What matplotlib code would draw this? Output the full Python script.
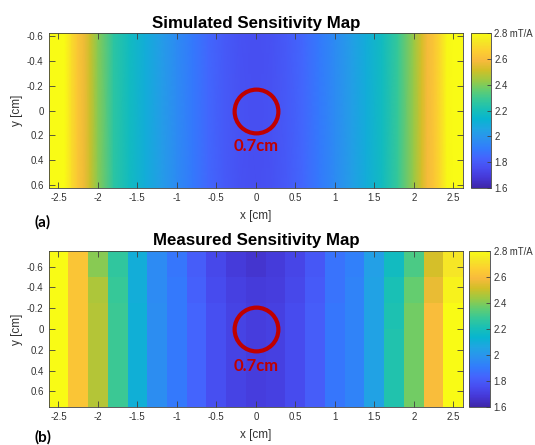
import numpy as np
import matplotlib
matplotlib.use('Agg')
import matplotlib.pyplot as plt
from matplotlib.colors import LinearSegmentedColormap

plt.rcParams['font.family'] = ['Liberation Sans', 'DejaVu Sans']

# parula (MATLAB default colormap), every 4th entry of the 64-entry table
parula_rgb = [
    (0.2422, 0.1504, 0.6603), (0.2706, 0.2147, 0.8364), (0.2813, 0.3006, 0.9414),
    (0.2699, 0.3892, 0.9906), (0.1963, 0.4847, 0.9892), (0.1687, 0.5703, 0.9359),
    (0.1248, 0.6459, 0.8883), (0.0297, 0.7082, 0.8163), (0.0964, 0.7500, 0.7120),
    (0.2161, 0.7843, 0.5923), (0.3909, 0.8029, 0.4354), (0.6174, 0.7876, 0.2612),
    (0.8203, 0.7498, 0.1535), (0.9728, 0.7298, 0.2394), (0.9892, 0.8136, 0.1885),
    (0.9597, 0.9135, 0.1423), (0.9769, 0.9839, 0.0805)]
parula_pos = [0, 4, 8, 12, 16, 20, 24, 28, 32, 36, 40, 44, 48, 52, 56, 60, 63]
parula = LinearSegmentedColormap.from_list(
    'parula', [(p / 63, c) for p, c in zip(parula_pos, parula_rgb)])

# simulated sensitivity (mT/A) along x, same profile at top and bottom edge
sim_x = [-2.625, -2.5, -2.42, -2.33, -2.25, -2.17, -2.1, -2.0, -1.8, -1.6, -1.4, -1.2,
         -1.0, -0.8, -0.6, -0.4, -0.2, 0.0, 0.2, 0.4, 0.6, 0.8, 1.0, 1.2, 1.4, 1.6,
         1.8, 2.0, 2.1, 2.17, 2.25, 2.33, 2.42, 2.5, 2.625]
sim_v = [2.92, 2.87, 2.80, 2.70, 2.63, 2.57, 2.50, 2.41, 2.26, 2.18, 2.10, 2.03,
         1.96, 1.90, 1.84, 1.80, 1.77, 1.76, 1.77, 1.80, 1.84, 1.90, 1.96, 2.03, 2.10,
         2.18, 2.28, 2.43, 2.52, 2.58, 2.63, 2.69, 2.79, 2.87, 2.92]
sim_y = [-0.625, 0.625]

# measured sensitivity (mT/A), 6 rows x 21 columns of 0.25 cm pixels
meas_x = [-2.5, -2.25, -2.0, -1.75, -1.5, -1.25, -1.0, -0.75, -0.5, -0.25, 0.0,
          0.25, 0.5, 0.75, 1.0, 1.25, 1.5, 1.75, 2.0, 2.25, 2.5]
meas_y = [-0.625, -0.375, -0.125, 0.125, 0.375, 0.625]
meas_v = [
    [2.84, 2.63, 2.41, 2.27, 2.10, 1.96, 1.89, 1.81, 1.74, 1.69, 1.67, 1.69, 1.73, 1.79, 1.88, 1.92, 2.04, 2.18, 2.32, 2.52, 2.73],
    [2.84, 2.63, 2.46, 2.28, 2.10, 1.96, 1.90, 1.82, 1.75, 1.71, 1.69, 1.70, 1.74, 1.80, 1.88, 1.93, 2.05, 2.21, 2.36, 2.56, 2.77],
    [2.84, 2.63, 2.47, 2.29, 2.11, 1.97, 1.90, 1.83, 1.76, 1.72, 1.70, 1.71, 1.75, 1.81, 1.89, 1.93, 2.05, 2.22, 2.38, 2.60, 2.82],
    [2.84, 2.63, 2.47, 2.29, 2.11, 1.97, 1.90, 1.83, 1.76, 1.72, 1.70, 1.71, 1.75, 1.81, 1.89, 1.93, 2.05, 2.23, 2.38, 2.60, 2.82],
    [2.84, 2.63, 2.47, 2.29, 2.11, 1.97, 1.90, 1.83, 1.76, 1.72, 1.70, 1.71, 1.75, 1.81, 1.89, 1.93, 2.05, 2.23, 2.38, 2.60, 2.82],
    [2.84, 2.63, 2.47, 2.29, 2.11, 1.97, 1.90, 1.83, 1.76, 1.72, 1.70, 1.71, 1.75, 1.81, 1.89, 1.93, 2.05, 2.23, 2.38, 2.60, 2.82],
]

xticks = [-2.5, -2, -1.5, -1, -0.5, 0, 0.5, 1, 1.5, 2, 2.5]
yticks = [-0.6, -0.4, -0.2, 0, 0.2, 0.4, 0.6]
cticks = [1.6, 1.8, 2.0, 2.2, 2.4, 2.6, 2.8]
clabels = ['1.6', '1.8', '2', '2.2', '2.4', '2.6', '2.8 mT/A']

grey = '#404040'
txt = '#333333'
red = '#C00000'

fig = plt.figure(figsize=(5.35, 4.45), dpi=100)
ax1 = fig.add_axes([0.0907, 0.5775, 0.775, 0.348])
cax1 = fig.add_axes([0.880, 0.5775, 0.0374, 0.348])
ax2 = fig.add_axes([0.0907, 0.0854, 0.775, 0.3506])
cax2 = fig.add_axes([0.877, 0.0854, 0.0393, 0.3506])

sim = np.vstack([sim_v, sim_v])
m1 = ax1.pcolormesh(sim_x, sim_y, sim, shading='gouraud', cmap=parula, vmin=1.6, vmax=2.8)
m2 = ax2.pcolormesh(meas_x, meas_y, np.array(meas_v), shading='nearest', cmap=parula,
                    vmin=1.6, vmax=2.8)

panels = [(ax1, cax1, m1, 'Simulated Sensitivity Map', 0.625, 0.285, '(a)', 222),
          (ax2, cax2, m2, 'Measured Sensitivity Map', 0.75, 0.36, '(b)', 437)]

for ax, cax, m, title, ylim, ty, tag, tag_px in panels:
    ax.set_xlim(-2.625, 2.625)
    ax.set_ylim(ylim, -ylim)
    ax.set_xticks(xticks)
    ax.set_xticklabels(['%g' % t for t in xticks])
    ax.set_yticks(yticks)
    ax.set_yticklabels(['%g' % t for t in yticks])
    ax.tick_params(direction='in', top=True, right=True, length=4, width=0.6,
                   color=grey, labelcolor=txt, labelsize=7, pad=3.5)
    for s in ax.spines.values():
        s.set_color(grey)
        s.set_linewidth(0.6)
    ax.set_xlabel('x [cm]', fontsize=8.5, color=txt, labelpad=5)
    ax.set_ylabel('y [cm]', fontsize=8.5, color=txt, labelpad=3)
    ax.set_title(title, fontsize=12.2, fontweight='bold', pad=4)

    # coil outline and its size
    ax.plot(0, 0, 'o', ms=31.5, mfc='none', mec=red, mew=3.0)
    ax.text(0, ty, '0.7cm', color=red, fontsize=12, fontweight='bold',
            family=['Lato', 'DejaVu Sans'], ha='center', va='center')

    cb = fig.colorbar(m, cax=cax)
    cb.set_ticks(cticks)
    cb.set_ticklabels(clabels)
    cb.ax.tick_params(direction='in', length=3, width=0.6, color=grey,
                      labelcolor=txt, labelsize=6.9, pad=2.5)
    cb.outline.set_edgecolor(grey)
    cb.outline.set_linewidth(0.6)

    fig.text(0.065, 1 - tag_px / 445, tag, fontsize=11, fontweight='bold',
             family=['Lato', 'DejaVu Sans'], ha='left', va='center')

fig.savefig('out.png', dpi=100)
